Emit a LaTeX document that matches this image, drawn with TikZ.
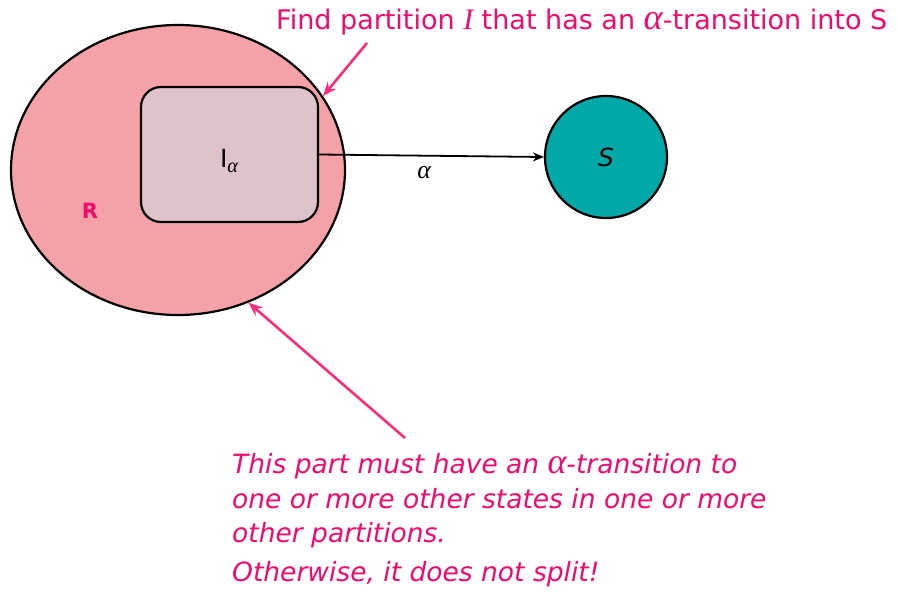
\documentclass[tikz,border=0pt]{standalone}
\usepackage{graphicx}
\usepackage{fontspec}
\setmainfont{DejaVu Sans}
\newfontfamily\greekser{Liberation Serif}
\newcommand{\galpha}{\scalebox{1.35}{\greekser\itshape α}}
\newcommand{\gI}{\scalebox{1.1}{\greekser\itshape I}}
\usetikzlibrary{shapes.geometric,arrows.meta}
\definecolor{rfill}{RGB}{245,161,168}
\definecolor{ifill}{RGB}{222,196,202}
\definecolor{sfill}{RGB}{0,168,168}
\definecolor{pinktext}{RGB}{240,10,110}
\definecolor{pinkarrow}{RGB}{250,45,125}
\tikzset{
  region/.style={ellipse, draw=black, line width=2.2pt, fill=rfill, inner sep=0pt},
  partbox/.style={rectangle, rounded corners=20pt, draw=black, line width=2.2pt, fill=ifill, inner sep=0pt},
  statenode/.style={circle, draw=black, line width=2.2pt, fill=sfill, inner sep=0pt},
  note/.style={text=pinktext, font=\fontsize{27}{32}\selectfont, inner sep=0pt, anchor=base west},
  notei/.style={note, font=\fontsize{26.5}{32}\selectfont\itshape},
  pinkarr/.style={draw=pinkarrow, line width=2.6pt, -{Stealth[length=14pt,width=11pt]}},
  blackarr/.style={draw=black, line width=1.8pt, -{Stealth[length=11pt,width=9pt]}}
}
\begin{document}
\begin{tikzpicture}[x=1pt,y=-1pt]
\useasboundingbox (0,0) rectangle (898,592);
\node[region, minimum width=334pt, minimum height=290pt] (R) at (178,170) {};
\node[partbox, minimum width=177pt, minimum height=135pt] (I) at (229.5,154.5) {};
\node[font=\fontsize{25}{28}\selectfont] (Ilab) at (229,161) {I\raisebox{-5pt}{\fontsize{15}{16}\selectfont\galpha}};
\node[text=pinktext, font=\fontsize{21}{24}\selectfont\bfseries] (Rlab) at (90,211) {R};
\node[statenode, minimum size=122pt] (S) at (606,157) {};
\node[font=\fontsize{25}{28}\selectfont\itshape] (Slab) at (606,157) {S};
\draw[blackarr] (I.east) -- (S.west);
\node[font=\fontsize{19}{22}\selectfont] (alab) at (424,173) {\galpha};
\node[note] (top) at (276,29) {Find partition \gI\ that has an \galpha-transition into S};
\coordinate (topstart) at (367,43);
\draw[pinkarr] (topstart) -- (R.27);
\node[notei] (l1) at (232,473) {This part must have an \galpha-transition to};
\node[notei] (l2) at (232,508) {one or more other states in one or more};
\node[notei] (l3) at (232,542) {other partitions.};
\node[notei] (l4) at (232,581) {Otherwise, it does not split!};
\coordinate (botstart) at (405,438);
\draw[pinkarr] (botstart) -- (R.-62);
\end{tikzpicture}
\end{document}
